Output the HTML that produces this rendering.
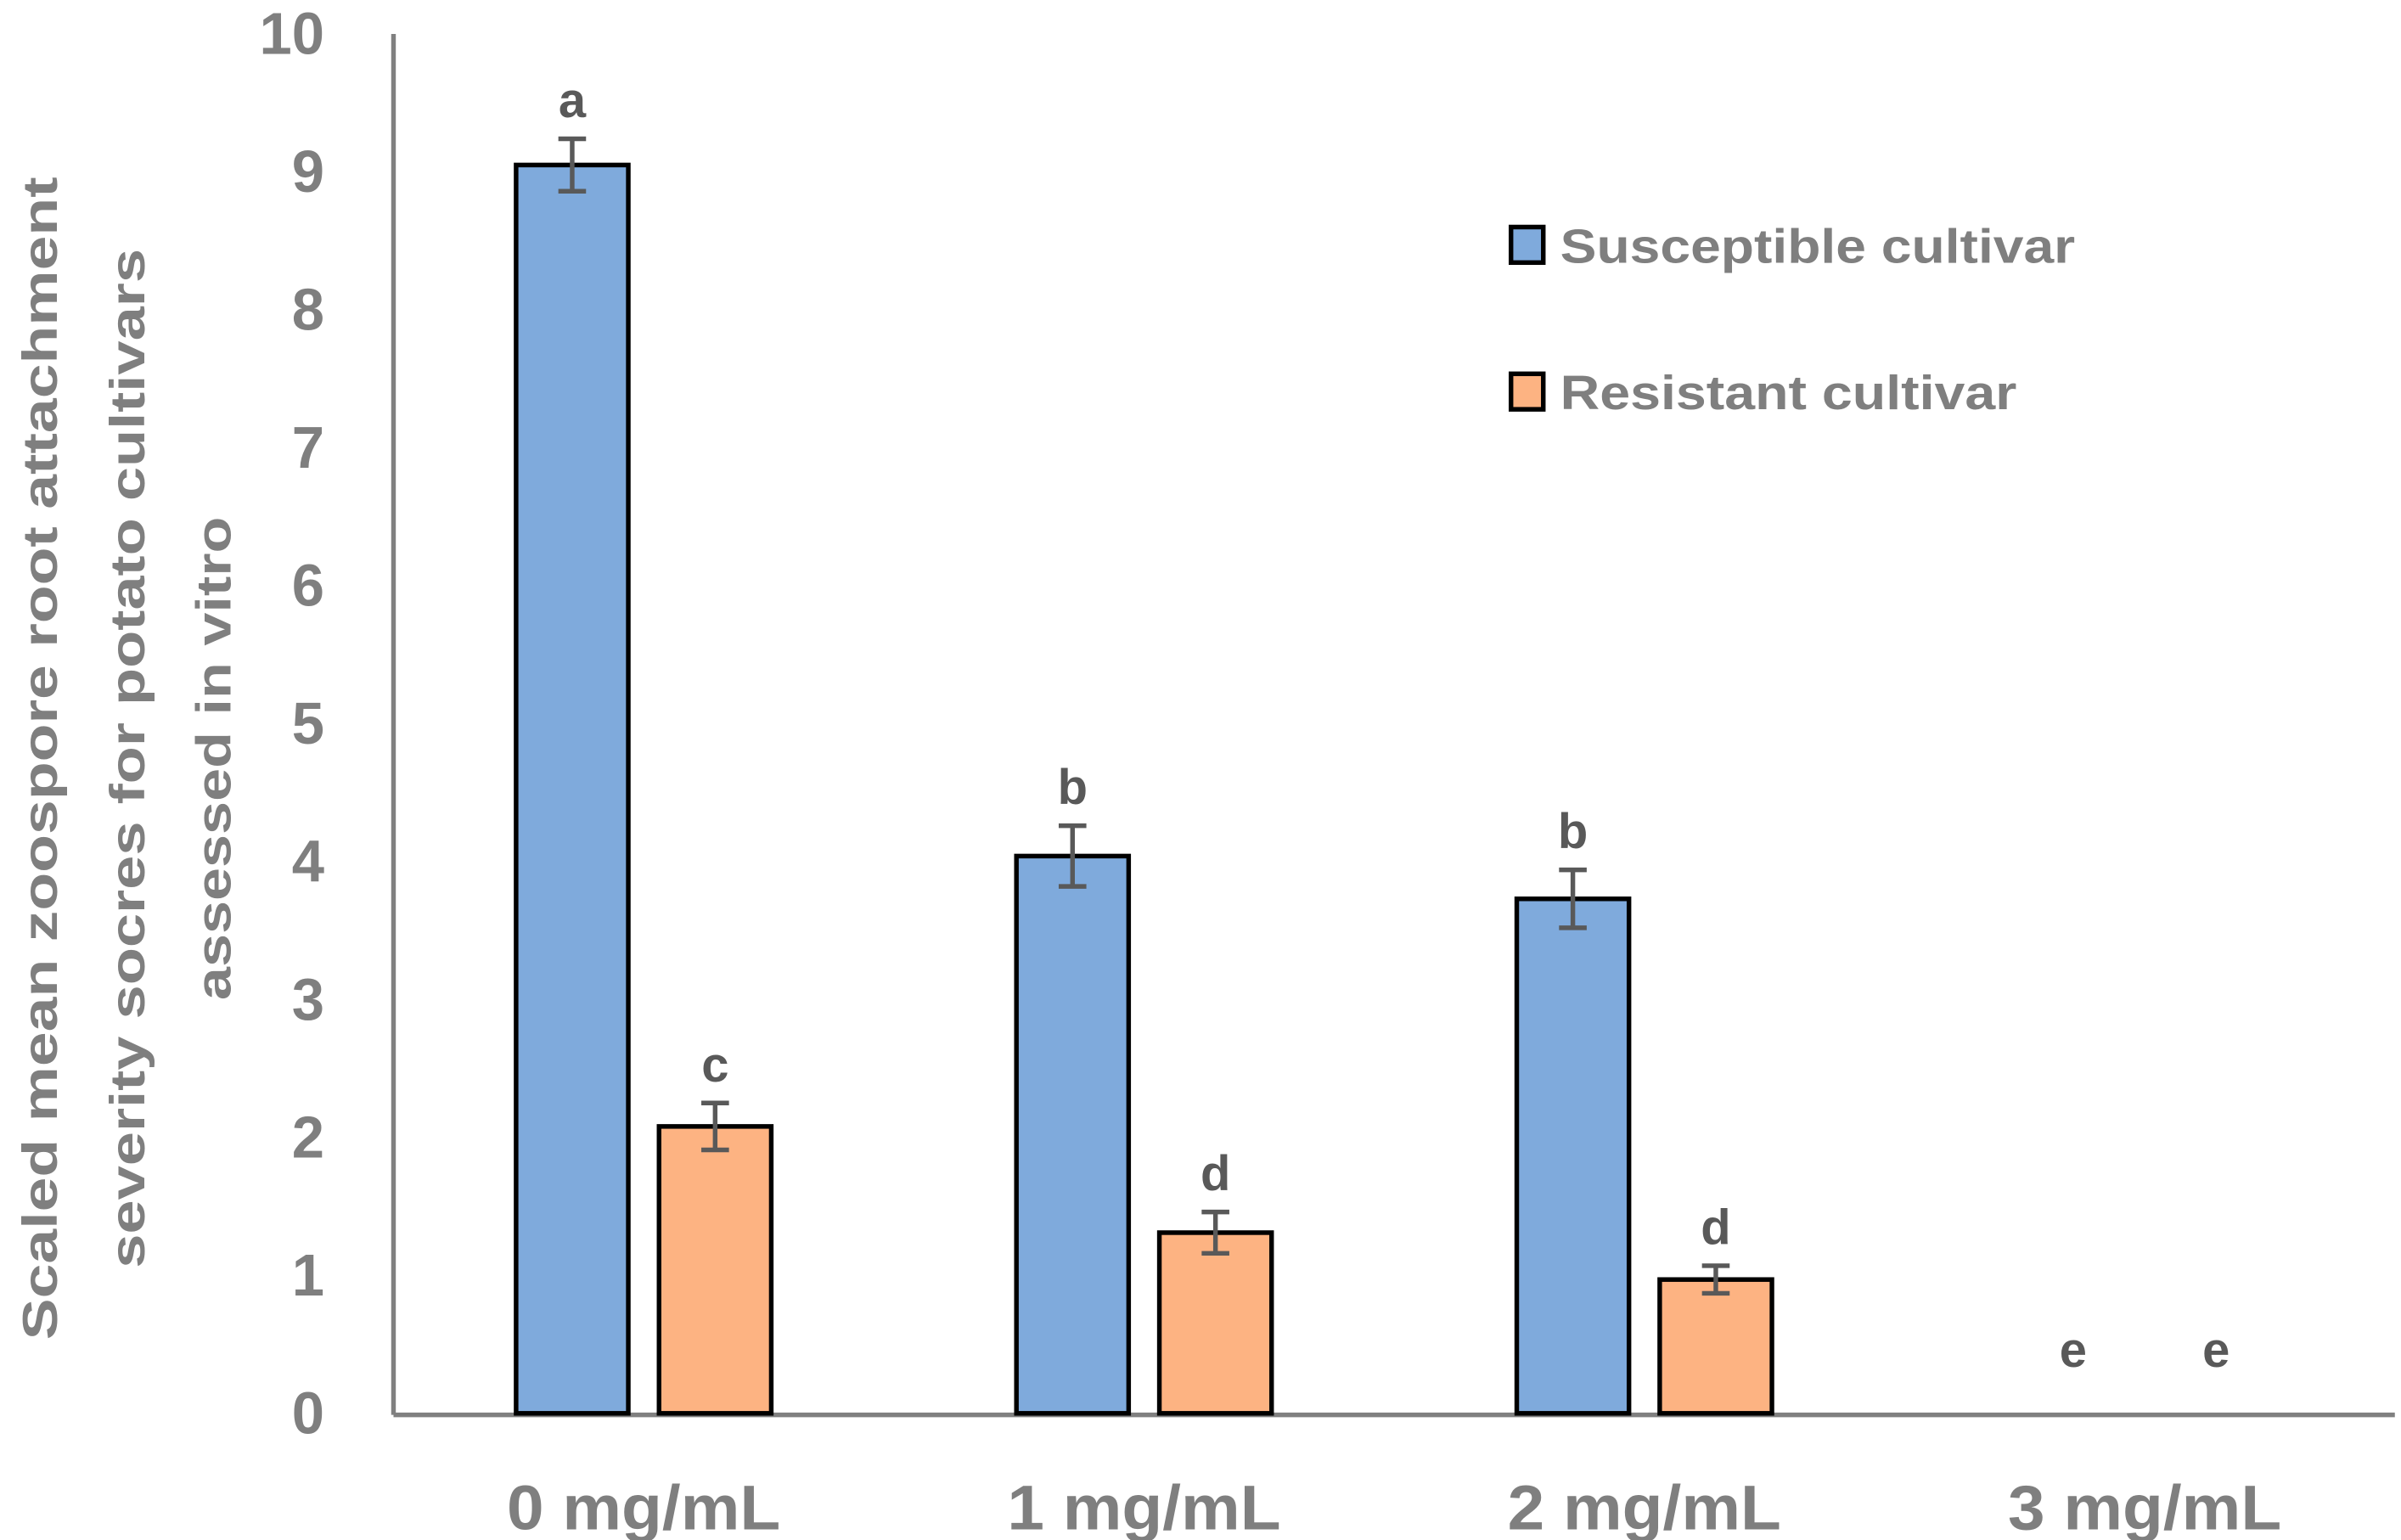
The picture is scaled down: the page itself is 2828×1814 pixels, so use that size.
<!DOCTYPE html>
<html><head><meta charset="utf-8"><style>
html,body{margin:0;padding:0;background:#fff;}
svg{display:block;}
text{font-family:"Liberation Sans",sans-serif;font-weight:bold;}
</style></head><body>
<svg id="chart" width="2828" height="1814" viewBox="0 0 1562 997" preserveAspectRatio="none" xmlns="http://www.w3.org/2000/svg">
<g id="yt" fill="#7f7f7f" font-size="32">
<text transform="translate(37,491) rotate(-90)" text-anchor="middle" textLength="753" lengthAdjust="spacingAndGlyphs">Scaled mean zoospore root attachment</text>
<text transform="translate(94,491) rotate(-90)" text-anchor="middle" textLength="660" lengthAdjust="spacingAndGlyphs">severity socres for potato cultivars</text>
<text transform="translate(150,491) rotate(-90)" text-anchor="middle" textLength="313" lengthAdjust="spacingAndGlyphs">assessed in vitro</text>
</g>
<g id="axes"></g>
<g id="bars"></g>
<g id="legend">
<rect x="983" y="147" width="21" height="23" fill="#7faadc" stroke="#000" stroke-width="3"/>
<text x="1015" y="170" font-size="31" fill="#7f7f7f" textLength="335" lengthAdjust="spacingAndGlyphs">Susceptible cultivar</text>
<rect x="983" y="242" width="21" height="23" fill="#fdb382" stroke="#000" stroke-width="3"/>
<text x="1015" y="265" font-size="31" fill="#7f7f7f" textLength="297" lengthAdjust="spacingAndGlyphs">Resistant cultivar</text>
</g>
</svg>
<script>
const categories = ["0 mg/mL","1 mg/mL","2 mg/mL","3 mg/mL"];
const susceptible = [9.05, 4.04, 3.73, 0];
const resistant = [2.08, 1.31, 0.97, 0];
const susceptibleErr = [0.19, 0.22, 0.21, 0];
const resistantErr = [0.17, 0.15, 0.10, 0];
const susceptibleLetters = ["a","b","b","e"];
const resistantLetters = ["c","d","d","e"];
const yTicks = [0,1,2,3,4,5,6,7,8,9,10];

const NS = "http://www.w3.org/2000/svg";
const x0 = 256, x1 = 1558, yBase = 915, yTop = 22, yMax = 10;
const y = v => yBase - (yBase - yTop) * v / yMax;
const band = (x1 - x0) / categories.length;
const xc = i => x0 + band * (i + 0.5);
const barW = 73, gap = 20;
function mk(tag, attrs, parent) {
  const e = document.createElementNS(NS, tag);
  for (const k in attrs) e.setAttribute(k, attrs[k]);
  parent.appendChild(e);
  return e;
}
const axes = document.getElementById('axes');
const bars = document.getElementById('bars');
yTicks.forEach(t => {
  const tx = mk('text', {x: 211, y: y(t) + 13, 'text-anchor': 'end', 'font-size': 38, fill: '#7f7f7f'}, axes);
  
  
  tx.textContent = t;
});
categories.forEach((c, i) => {
  const tx = mk('text', {x: xc(i), y: 990, 'text-anchor': 'middle', 'font-size': 41, fill: '#7f7f7f', textLength: 178, lengthAdjust: 'spacingAndGlyphs'}, axes);
  
  
  tx.textContent = c;
});
function drawBar(i, v, err, letter, cx, fill, name) {
  if (v > 0) {
    const r = mk('rect', {x: cx - barW/2, y: y(v), width: barW, height: yBase - y(v), fill: fill, stroke: '#000', 'stroke-width': 3}, bars);
    
    
    const eb = mk('path', {d: `M${cx-9},${y(v+err)}H${cx+9}M${cx},${y(v+err)}V${y(v-err)}M${cx-9},${y(v-err)}H${cx+9}`, stroke: '#595959', 'stroke-width': 3, fill: 'none'}, bars);
    
    
  }
  const ly = v > 0 ? y(v + err) - 14 : y(0) - 30;
  const lt = mk('text', {x: cx, y: ly, 'text-anchor': 'middle', 'font-size': 32, fill: '#595959'}, bars);
  
  
  lt.textContent = letter;
}
categories.forEach((c, i) => {
  drawBar(i, susceptible[i], susceptibleErr[i], susceptibleLetters[i], xc(i) - (barW + gap)/2, '#7faadc', 'bar-susceptible');
  drawBar(i, resistant[i], resistantErr[i], resistantLetters[i], xc(i) + (barW + gap)/2, '#fdb382', 'bar-resistant');
});
const ya = mk('line', {x1: x0, y1: yTop, x2: x0, y2: yBase + 1, stroke: '#808080', 'stroke-width': 3}, axes);


const xa = mk('line', {x1: x0, y1: yBase + 1, x2: x1, y2: yBase + 1, stroke: '#808080', 'stroke-width': 3}, axes);


</script>
</body></html>
